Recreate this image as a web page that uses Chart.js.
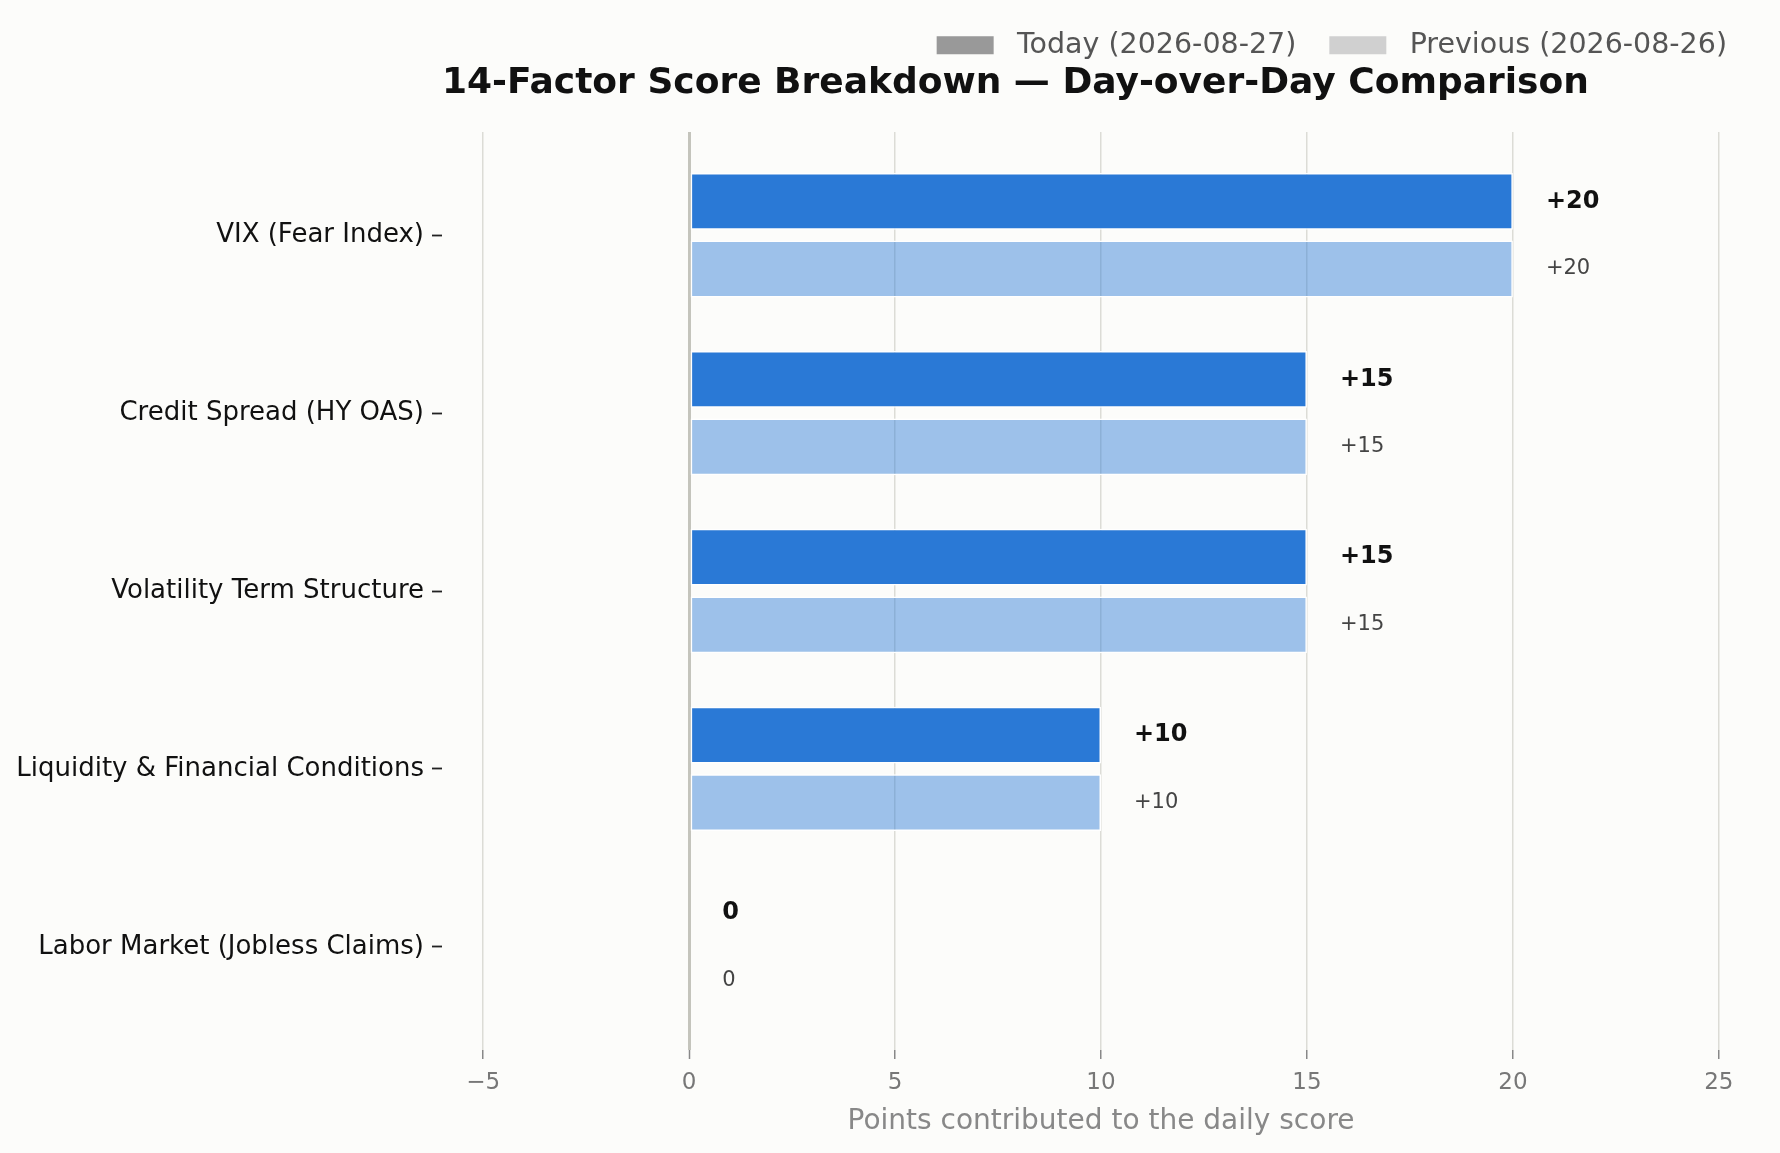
<!DOCTYPE html>
<html>
<head>
<meta charset="utf-8">
<title>14-Factor Score Breakdown</title>
<script src="https://cdn.jsdelivr.net/npm/chart.js@4.4.1/dist/chart.umd.min.js"></script>
<style>
  html, body { margin: 0; padding: 0; background: #fcfcfa; }
  #wrap { width: 1780px; height: 1153px; }
</style>
</head>
<body>
<div id="wrap"><canvas id="chart"></canvas></div>
<script>
// factors, top to bottom
const factorLabels = [
    "VIX (Fear Index)",
    "Credit Spread (HY OAS)",
    "Volatility Term Structure",
    "Liquidity & Financial Conditions",
    "Labor Market (Jobless Claims)"
];
const todayScores = [20, 15, 15, 10, 0];
const previousScores = [20, 15, 15, 10, 0];
const xTickValues = [-5, 0, 5, 10, 15, 20, 25];
const legendLabels = ["Today (2026-08-27)", "Previous (2026-08-26)"];
const legendSwatch = ["#999999", "#d0d0d0"];

const FONT = "'DejaVu Sans', 'Noto Sans', sans-serif";
const BG = "#fcfcfa";

Chart.defaults.font.family = FONT;

// paint the page colour behind everything
const bgPlugin = {
    id: "bg",
    beforeDraw(chart) {
        const ctx = chart.ctx;
        ctx.save();
        ctx.fillStyle = BG;
        ctx.fillRect(0, 0, chart.width, chart.height);
        ctx.restore();
    }
};

// "+20" style numbers at the end of every bar
const valueLabels = {
    id: "valueLabels",
    afterDatasetsDraw(chart) {
        const ctx = chart.ctx;
        ctx.save();
        ctx.textAlign = "left";
        ctx.textBaseline = "middle";
        chart.data.datasets.forEach((ds, di) => {
            const meta = chart.getDatasetMeta(di);
            meta.data.forEach((bar, j) => {
                const v = ds.data[j].x;
                const txt = v > 0 ? "+" + v : String(v);
                if (di === 0) {
                    ctx.font = "bold 24px " + FONT;
                    ctx.fillStyle = "#111111";
                } else {
                    ctx.font = "21px " + FONT;
                    ctx.fillStyle = "#444444";
                }
                ctx.fillText(txt, bar.x + 33, bar.y);
            });
        });
        ctx.restore();
    }
};

const ctx = document.getElementById("chart").getContext("2d");

new Chart(ctx, {
    type: "bar",
    data: {
        datasets: [
            {
                label: legendLabels[0],
                data: todayScores.map((v, i) => ({ x: v, y: i })),
                backgroundColor: "#2a79d6",
                borderColor: "#ffffff",
                borderWidth: 1.5,
                borderSkipped: false
            },
            {
                label: legendLabels[1],
                data: previousScores.map((v, i) => ({ x: v, y: i })),
                backgroundColor: "rgba(42, 121, 214, 0.45)",
                borderColor: "#ffffff",
                borderWidth: 1.5,
                borderSkipped: false
            }
        ]
    },
    options: {
        indexAxis: "y",
        responsive: true,
        maintainAspectRatio: false,
        devicePixelRatio: 1,
        animation: false,
        categoryPercentage: 0.76,
        barPercentage: 0.84,
        layout: { padding: { top: -2, right: 20, bottom: 0, left: 0 } },
        plugins: {
            tooltip: { enabled: false },
            legend: {
                position: "top",
                align: "end",
                labels: {
                    boxWidth: 57,
                    boxHeight: 18,
                    padding: 33,
                    color: "#555555",
                    font: { size: 28.5 },
                    // a leading space widens the gap between swatch and text
                    generateLabels: () => legendLabels.map((t, i) => ({
                        text: " " + t,
                        fillStyle: legendSwatch[i],
                        strokeStyle: legendSwatch[i],
                        lineWidth: 0,
                        fontColor: "#555555",
                        hidden: false,
                        datasetIndex: i
                    }))
                }
            },
            title: {
                display: true,
                text: "14-Factor Score Breakdown \u2014 Day-over-Day Comparison",
                align: "start",
                fullSize: false,
                weight: 500,
                color: "#111111",
                font: { size: 36, weight: "bold", lineHeight: 0.8 },
                padding: { top: 0, bottom: 33.7 }
            }
        },
        scales: {
            x: {
                type: "linear",
                min: -6,
                max: 26,
                afterBuildTicks: (scale) => { scale.ticks = xTickValues.map(v => ({ value: v })); },
                afterFit: (scale) => { scale.height = 103; },
                border: { display: false },
                grid: {
                    color: (c) => c.tick && c.tick.value === 0 ? "#c4c4bc" : "#dcdcd6",
                    lineWidth: (c) => c.tick && c.tick.value === 0 ? 3 : 1.5,
                    tickColor: "#888888",
                    tickLength: 9,
                    tickWidth: 1.5
                },
                ticks: {
                    color: "#777777",
                    font: { size: 23 },
                    padding: 10,
                    callback: (v) => v < 0 ? "\u2212" + Math.abs(v) : String(v)
                },
                title: {
                    display: true,
                    text: "Points contributed to the daily score",
                    color: "#888888",
                    font: { size: 28 },
                    padding: { top: 0, bottom: 14 }
                }
            },
            y: {
                type: "linear",
                reverse: true,
                offset: false,
                min: -0.58,
                max: 4.58,
                afterBuildTicks: (scale) => { scale.ticks = factorLabels.map((_, i) => ({ value: i })); },
                afterFit: (scale) => { scale.width = 442; },
                border: { display: false },
                grid: {
                    offset: false,
                    drawOnChartArea: false,
                    tickLength: 10,
                    tickColor: "#222222",
                    tickWidth: 1.8
                },
                ticks: {
                    autoSkip: false,
                    color: "#111111",
                    font: { size: 26 },
                    padding: 8,
                    callback: (v) => factorLabels[v]
                }
            }
        }
    },
    plugins: [bgPlugin, valueLabels]
});
</script>
</body>
</html>
